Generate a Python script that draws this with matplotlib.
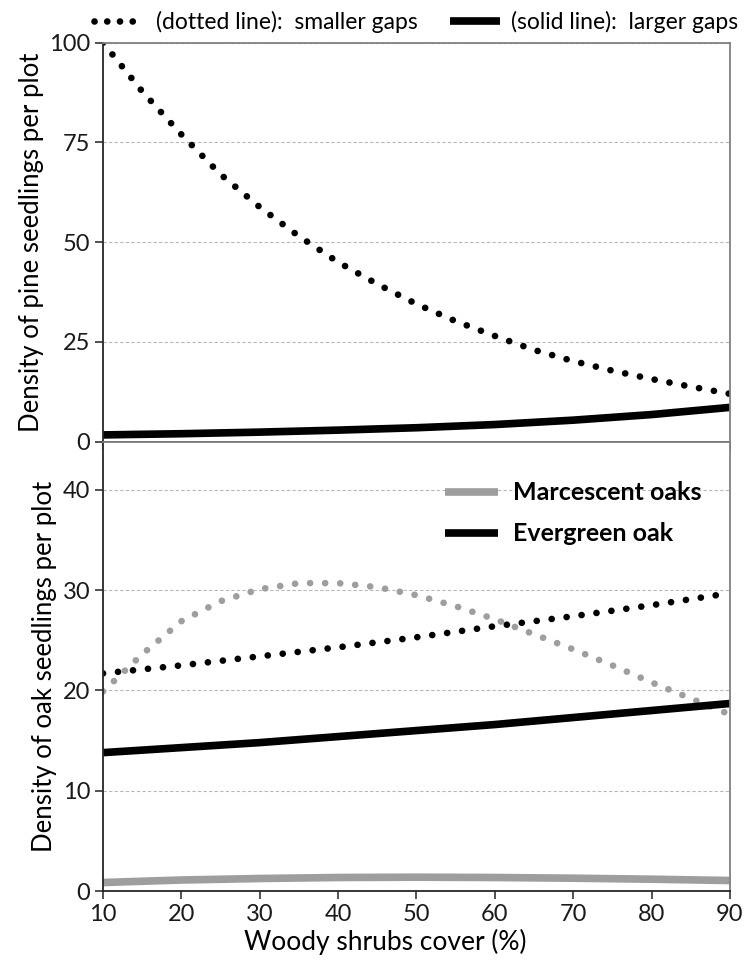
import numpy as np
import matplotlib.pyplot as plt
from matplotlib.lines import Line2D

plt.rcParams['font.family'] = ['Lato', 'DejaVu Sans']

# shrub cover (%) at which the curves were read
cover_fine = [10, 15, 20, 25, 30, 35, 40, 45, 50, 55, 60, 65, 70, 75, 80, 85, 90]
cover = [10, 20, 30, 40, 50, 60, 70, 80, 90]

# pine seedlings per plot
pine_small = [100, 87.8, 77, 67, 58.8, 51.5, 45, 39.5, 34.5, 30.2, 26.5, 23, 20.2, 17.8, 15.7, 13.8, 12.0]
pine_large = [1.7, 2.0, 2.4, 2.9, 3.5, 4.3, 5.4, 6.8, 8.6]

# oak seedlings per plot
evergreen_small = [21.7, 22.5, 23.4, 24.3, 25.3, 26.4, 27.4, 28.5, 29.7]
evergreen_large = [13.8, 14.3, 14.8, 15.4, 16.0, 16.6, 17.3, 18.0, 18.7]
marcescent_small = [19.9, 23.6, 26.9, 28.9, 30.1, 30.7, 30.7, 30.3, 29.5, 28.4, 27.1, 25.6, 24.1, 22.5, 20.8, 19.2, 17.6]
marcescent_large = [0.85, 1.1, 1.25, 1.35, 1.38, 1.35, 1.28, 1.18, 1.05]

BLACK = '#000000'
GREY = '#9e9e9e'
DOT_LW = 4.8
dots = (0, (0.01, 2.25))

fig = plt.figure(figsize=(7.5, 9.68), dpi=100)
ax1 = fig.add_axes([0.1373, 0.5437, 0.836, 0.4122])
ax2 = fig.add_axes([0.1373, 0.0795, 0.836, 0.4642])

for ax in (ax1, ax2):
    ax.set_axisbelow(True)
    ax.yaxis.grid(True, linestyle=(0, (3, 2)), color='#b8b8b8', lw=0.8)
    ax.set_xlim(10, 90)
    ax.set_xticks(cover)
    ax.tick_params(direction='out', length=6, width=1.2, color='#333333',
                   labelsize=17, labelcolor='#1a1a1a', pad=3)
    ax.spines['left'].set_color('#262626')
    ax.spines['bottom'].set_color('#262626')
    ax.spines['top'].set_color('#808080')
    ax.spines['right'].set_color('#808080')
    for s in ax.spines.values():
        s.set_linewidth(1.3)

# top: pine
ax1.plot(cover_fine, pine_small, color=BLACK, lw=DOT_LW, linestyle=dots, dash_capstyle='round')
ax1.plot(cover, pine_large, color=BLACK, lw=5.5, solid_capstyle='butt')
ax1.set_ylim(0, 100)
ax1.set_yticks([0, 25, 50, 75, 100])
ax1.tick_params(axis='x', labelbottom=False)
ax1.set_ylabel('Density of pine seedlings per plot', fontsize=18.5, labelpad=4)

# bottom: oaks
ax2.plot(cover_fine, marcescent_small, color=GREY, lw=DOT_LW, linestyle=dots, dash_capstyle='round')
ax2.plot(cover, evergreen_small, color=BLACK, lw=DOT_LW, linestyle=dots, dash_capstyle='round')
ax2.plot(cover, evergreen_large, color=BLACK, lw=5.5, solid_capstyle='butt')
ax2.plot(cover, marcescent_large, color=GREY, lw=5.5, solid_capstyle='butt')
ax2.set_ylim(0, 44.8)
ax2.set_yticks([0, 10, 20, 30, 40])
ax2.set_ylabel('Density of oak seedlings per plot', fontsize=18.5, labelpad=4)
ax2.set_xlabel('Woody shrubs cover (%)', fontsize=19, labelpad=5)
ax2.xaxis.set_label_coords(0.45, -0.085)

oak_handles = [Line2D([], [], color=GREY, lw=5.5, solid_capstyle='butt'),
               Line2D([], [], color=BLACK, lw=5.5, solid_capstyle='butt')]
ax2.legend(oak_handles, ['Marcescent oaks', 'Evergreen oak'], loc='upper left',
           bbox_to_anchor=(0.51, 0.962), frameon=False, handlelength=2.1,
           handletextpad=0.6, labelspacing=0.72, prop={'weight': 'bold', 'size': 18})

gap_handles = [Line2D([], [], color=BLACK, lw=DOT_LW, linestyle=(0, (0.01, 1.9)), dash_capstyle='round'),
               Line2D([], [], color=BLACK, lw=5.5, solid_capstyle='butt')]
fig.legend(gap_handles, ['(dotted line):  smaller gaps', '(solid line):  larger gaps'],
           loc='upper center', bbox_to_anchor=(0.555, 1.01), ncol=2, frameon=False,
           fontsize=16.5, handlelength=2.2, handletextpad=0.5, columnspacing=1.4)

fig.savefig('out.png', dpi=100)
